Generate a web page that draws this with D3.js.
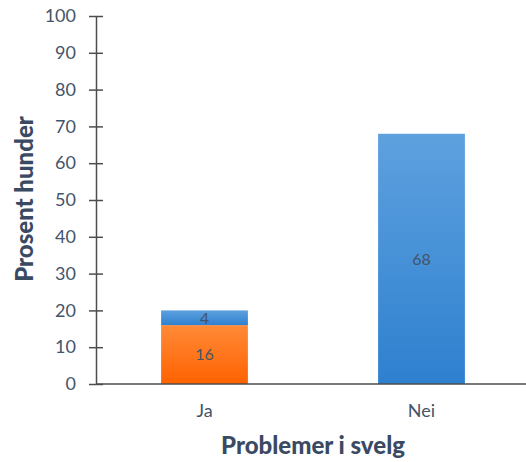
<!DOCTYPE html>
<html><head><meta charset="utf-8">
<script src="https://cdn.jsdelivr.net/npm/d3@7"></script>
<style>body{margin:0;background:#fff}svg{display:block}</style>
</head><body><svg id="c" width="526" height="462"></svg>
<script>
const categories = ["Ja", "Nei"];
const seriesNames = ["Ja-del", "Nei-del"];
const orangeValues = [16, 0];
const blueValues = [4, 68];
const yTicks = [0,10,20,30,40,50,60,70,80,90,100];

const svg = d3.select("#c");
const x0 = 96, y0 = 384;
const y = d3.scaleLinear().domain([0,100]).range([y0, 16]);
const x = d3.scaleBand().domain(categories).range([96, 530]).paddingInner(0.6).paddingOuter(0.3);

const defs = svg.append("defs");
function grad(id, c1, c2){
  const g = defs.append("linearGradient").attr("id", id).attr("x1",0).attr("y1",0).attr("x2",0).attr("y2",1);
  g.append("stop").attr("offset","0%").attr("stop-color",c1);
  g.append("stop").attr("offset","100%").attr("stop-color",c2);
}
grad("gOrange", "#ff8a38", "#ff6200");
grad("gBlue", "#5ea1df", "#2e80cf");

const data = categories.map((c,i)=>({c, o: orangeValues[i], b: blueValues[i]}));
const textColor = "#44546a";
const font = "Lato, 'Open Sans', sans-serif";

svg.selectAll(".o").data(data.filter(d=>d.o>0)).join("rect")
  .attr("x", d=>x(d.c)).attr("width", x.bandwidth())
  .attr("y", d=>y(d.o)).attr("height", d=>y(0)-y(d.o))
  .attr("fill", "url(#gOrange)");
svg.selectAll(".b").data(data.filter(d=>d.b>0)).join("rect")
  .attr("x", d=>x(d.c)).attr("width", x.bandwidth())
  .attr("y", d=>y(d.o+d.b)).attr("height", d=>y(d.o)-y(d.o+d.b))
  .attr("fill", "url(#gBlue)");

const lbl = [];
data.forEach(d=>{
  if(d.o>0) lbl.push({c:d.c, v:d.o, mid:d.o/2});
  if(d.b>0) lbl.push({c:d.c, v:d.b, mid:d.o+d.b/2});
});
svg.selectAll(".lbl").data(lbl).join("text")
  .attr("x", d=>x(d.c)+x.bandwidth()/2).attr("y", d=>y(d.mid))
  .attr("dy","0.36em").attr("text-anchor","middle")
  .attr("font-family",font).attr("font-size",16)
  .attr("fill", textColor).text(d=>d.v);

const yAxis = d3.axisLeft(y).tickValues(yTicks).tickSize(0).tickPadding(20);
const ga = svg.append("g").attr("transform", `translate(${x0},0)`).call(yAxis);
ga.select(".domain").attr("stroke","#4d4d4d").attr("stroke-width",1.5);
ga.selectAll(".tick line").remove();
ga.selectAll(".tick").append("line").attr("x1",-7).attr("x2",7).attr("stroke","#4d4d4d").attr("stroke-width",1.5);
ga.selectAll(".tick text").attr("font-family",font).attr("font-size",18).attr("fill",textColor);

const xAxis = d3.axisBottom(x).tickSize(0).tickPadding(20);
const gx = svg.append("g").attr("transform", `translate(0,${y0})`).call(xAxis);
gx.select(".domain").attr("d", `M${x0},0H526`).attr("stroke","#4d4d4d").attr("stroke-width",1.5);
gx.selectAll(".tick text").attr("font-family",font).attr("font-size",18).attr("fill",textColor);

svg.append("text").attr("transform","translate(33,199) rotate(-90)").attr("text-anchor","middle")
  .attr("font-family",font).attr("font-weight","900").attr("font-size",24)
  .attr("fill","#3b4a63").text("Prosent hunder");
svg.append("text").attr("x",313).attr("y",454).attr("text-anchor","middle")
  .attr("font-family",font).attr("font-weight","900").attr("font-size",24)
  .attr("fill","#3b4a63").text("Problemer i svelg");
</script></body></html>
